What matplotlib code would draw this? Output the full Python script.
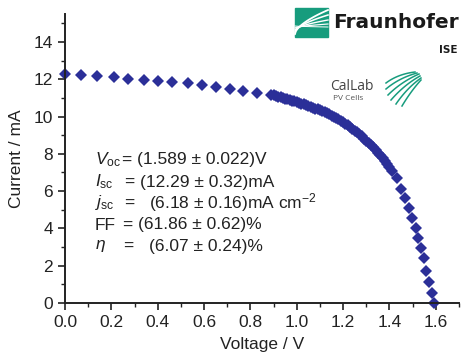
import numpy as np
import matplotlib
matplotlib.use("Agg")
import matplotlib.pyplot as plt
from matplotlib.patches import Rectangle
from matplotlib.ticker import MultipleLocator

plt.rcParams['font.family'] = ['Liberation Sans', 'DejaVu Sans']
plt.rcParams['mathtext.fontset'] = 'custom'
plt.rcParams['mathtext.rm'] = 'Liberation Sans'
plt.rcParams['mathtext.it'] = 'Liberation Sans:italic'

# I-V data (V in volts, I in mA)
voltage = [0.00, 0.07, 0.14, 0.21, 0.27, 0.34, 0.40, 0.46, 0.53, 0.59, 0.65, 0.71, 0.77, 0.83,
           0.89, 0.90, 0.91, 0.92, 0.93, 0.94, 0.95, 0.96, 0.97, 0.98, 0.99, 1.00,
           1.01, 1.02, 1.03, 1.04, 1.05, 1.06, 1.07, 1.08, 1.09, 1.10,
           1.11, 1.12, 1.13, 1.14, 1.15, 1.16, 1.17, 1.18, 1.19, 1.20,
           1.21, 1.22, 1.23, 1.24, 1.25, 1.26, 1.27, 1.28, 1.29, 1.30,
           1.31, 1.32, 1.33, 1.34, 1.35, 1.36, 1.37, 1.38, 1.39, 1.40, 1.41,
           1.434, 1.451, 1.468, 1.484, 1.499, 1.513, 1.525, 1.536, 1.547, 1.559, 1.570, 1.582, 1.593]
current = [12.30, 12.22, 12.18, 12.10, 12.03, 11.98, 11.90, 11.85, 11.80, 11.68, 11.60, 11.47, 11.38, 11.28,
           11.18, 11.14, 11.11, 11.07, 11.03, 10.99, 10.95, 10.92, 10.89, 10.85, 10.82, 10.78,
           10.74, 10.69, 10.65, 10.60, 10.56, 10.51, 10.47, 10.43, 10.38, 10.34,
           10.29, 10.23, 10.17, 10.11, 10.05, 9.98, 9.92, 9.85, 9.78, 9.70,
           9.62, 9.54, 9.45, 9.35, 9.25, 9.15, 9.04, 8.93, 8.82, 8.70,
           8.58, 8.46, 8.34, 8.21, 8.07, 7.92, 7.77, 7.61, 7.44, 7.27, 7.10,
           6.68, 6.14, 5.64, 5.10, 4.55, 4.00, 3.47, 2.93, 2.39, 1.74, 1.14, 0.56, 0.00]

labels = [r'$V_{\mathrm{oc}}$', r'$I_{\mathrm{sc}}$', r'$j_{\mathrm{sc}}$', 'FF', r'$\eta$']
values = ['(1.589 ± 0.022)V', '(12.29 ± 0.32)mA', r'(6.18 ± 0.16)mA cm$^{-2}$',
          '(61.86 ± 0.62)%', '(6.07 ± 0.24)%']

W, H = 466, 359
fig = plt.figure(figsize=(W / 100, H / 100), dpi=100)
ax = fig.add_axes([65 / W, 56 / H, 394 / W, 289 / H])
ax.set_facecolor('none')

def fx(px):
    return px / W

def fy(py):
    return 1 - py / H

ax.plot(voltage, current, linestyle='none', marker='D', markersize=6,
        color='#2b2f98', markeredgewidth=0, clip_on=False)

ax.set_xlim(0, 1.7)
ax.set_ylim(0, 15.5)
ax.xaxis.set_minor_locator(MultipleLocator(0.1))
ax.yaxis.set_minor_locator(MultipleLocator(1))
xt = np.arange(0, 1.61, 0.2)
ax.set_xticks(xt)
ax.set_xticklabels(['%.1f' % t for t in xt])
ax.set_yticks(np.arange(0, 15, 2))

ax.spines['top'].set_visible(False)
ax.spines['right'].set_visible(False)
for s in ['left', 'bottom']:
    ax.spines[s].set_linewidth(1.4)
    ax.spines[s].set_color('#222222')
ax.tick_params(which='major', direction='out', length=5, width=1.2, labelsize=12.5, colors='#222222')
ax.tick_params(which='minor', direction='out', length=3, width=1.0, colors='#222222')

ax.set_xlabel('Voltage / V', fontsize=12.5, color='#222222', labelpad=5)
ax.set_ylabel('Current / mA', fontsize=12.5, color='#222222', labelpad=7)

# parameter block
rows_y = [160, 182, 203, 225, 246]
eq_x = [121, 124, 124, 122, 123]
val_x = [137, 140, 149, 138, 149]
for lab, val, ry, ex, vx in zip(labels, values, rows_y, eq_x, val_x):
    fig.text(fx(95), fy(ry), lab, fontsize=12.5, va='center', ha='left', color='#222222')
    fig.text(fx(ex), fy(ry), '=', fontsize=12.5, va='center', ha='left', color='#222222')
    fig.text(fx(vx), fy(ry), val, fontsize=12.5, va='center', ha='left', color='#222222')

# logos, drawn in figure pixel coordinates
green = '#179c7d'
ov = fig.add_axes([0, 0, 1, 1], zorder=5)
ov.set_xlim(0, W)
ov.set_ylim(H, 0)
ov.axis('off')
ov.add_patch(Rectangle((295, 8), 33, 29, color=green))
t = np.linspace(0, 1, 40)
for k, (y0, y1) in enumerate([(34, 10), (32, 15), (30, 20), (28, 24), (26, 27)]):
    yy = y0 + (y1 - y0) * t ** 0.6
    ov.plot(295 + 33 * t, yy, color='white', linewidth=1.3 - 0.15 * k)

fig.text(fx(333), fy(23), 'Fraunhofer', fontsize=14.5, weight='bold', family='DejaVu Sans',
         color='#1a1a1a', va='center', ha='left')
fig.text(fx(458), fy(50), 'ISE', fontsize=7.5, weight='bold', family='DejaVu Sans',
         color='#1a1a1a', va='center', ha='right')

fig.text(fx(330), fy(86), 'CalLab', fontsize=10, family='Open Sans', color='#444444',
         va='center', ha='left')
fig.text(fx(333), fy(98), 'PV Cells', fontsize=6, family='Open Sans', color='#555555',
         va='center', ha='left')
# fan of green strokes, converging at the upper right
tops = [(415, 72), (417, 73), (419, 74), (420, 76), (421, 78), (421, 80)]
bots = [(386, 83), (386, 89), (388, 95), (391, 100), (396, 104), (402, 106)]
ctrl = [(398, 74), (399, 78), (401, 82), (404, 85), (407, 88), (411, 91)]
for p0, p1, p2 in zip(tops, ctrl, bots):
    bx = (1 - t) ** 2 * p0[0] + 2 * (1 - t) * t * p1[0] + t ** 2 * p2[0]
    by = (1 - t) ** 2 * p0[1] + 2 * (1 - t) * t * p1[1] + t ** 2 * p2[1]
    ov.plot(bx, by, color=green, linewidth=1.1)

fig.savefig('out.png', dpi=100)
